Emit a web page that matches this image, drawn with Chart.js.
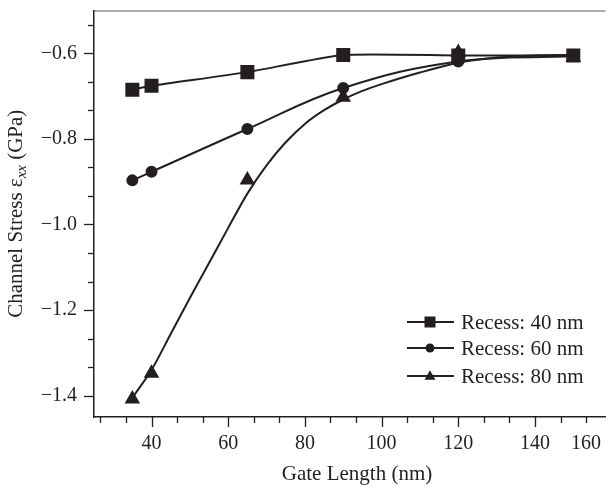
<!DOCTYPE html>
<html>
<head>
<meta charset="utf-8">
<script src="https://cdn.jsdelivr.net/npm/chart.js@4"></script>
<style>
  html, body { margin: 0; padding: 0; background: #fff; }
  #wrap { width: 616px; height: 487px; }
</style>
</head>
<body>
<div id="wrap"><canvas id="stressChart"></canvas></div>
<script>
// gate length (nm) of the measured points
const gateLength = [35, 40, 65, 90, 120, 150];
// channel stress (GPa) per recess depth
const recess40 = [-0.685, -0.676, -0.644, -0.604, -0.605, -0.605];
const recess60 = [-0.897, -0.877, -0.777, -0.681, -0.619, -0.607];
const recess80 = [-1.408, -1.348, -0.896, -0.703, -0.598, -0.610];

// fitted curve for the 80 nm recess (does not go through every point)
const fit80X = [35, 40, 45, 50, 55, 60, 65, 70, 75, 80, 85, 90, 95, 100, 110, 120, 130, 140, 150];
const fit80Y = [-1.405, -1.340, -1.256, -1.172, -1.090, -1.008, -0.928, -0.862, -0.808, -0.765, -0.733, -0.708, -0.688, -0.672, -0.645, -0.622, -0.610, -0.605, -0.604];

// tick labels (the "160" label sits under the last minor tick in the original)
const xTickValues = [40, 60, 80, 100, 120, 140, 153.333];
const xTickLabels = ['40', '60', '80', '100', '120', '140', '160'];
const yTickValues = [-0.6, -0.8, -1.0, -1.2, -1.4];
const yTickLabels = ['\u22120.6', '\u22120.8', '\u22121.0', '\u22121.2', '\u22121.4'];

const ink = '#231f20';
const serif = 'Liberation Serif';

function pairs(xs, ys) {
    return xs.map((x, i) => ({ x: x, y: ys[i] }));
}

function marker(ctx, style, x, y, size) {
    ctx.beginPath();
    if (style === 'rect') {
        ctx.rect(x - size / 2, y - size / 2, size, size);
    } else if (style === 'circle') {
        ctx.arc(x, y, size / 2, 0, Math.PI * 2);
    } else {
        const h = size * 0.87;
        ctx.moveTo(x, y - h * 0.6);
        ctx.lineTo(x + size / 2, y + h * 0.4);
        ctx.lineTo(x - size / 2, y + h * 0.4);
        ctx.closePath();
    }
    ctx.fill();
}

// ticks, top frame line, legend and axis titles
const decorations = {
    id: 'decorations',
    afterDraw(chart) {
        const ctx = chart.ctx;
        const a = chart.chartArea;
        const xs = chart.scales.x;
        const ys = chart.scales.y;
        ctx.save();
        ctx.strokeStyle = ink;
        ctx.fillStyle = ink;

        // top frame line
        ctx.lineWidth = 1.2;
        ctx.globalAlpha = 0.75;
        ctx.beginPath();
        ctx.moveTo(a.left, a.top + 0.5);
        ctx.lineTo(a.right, a.top + 0.5);
        ctx.stroke();
        ctx.globalAlpha = 1;

        // x ticks every 20/3 nm, longer on multiples of 20
        ctx.lineWidth = 1.3;
        for (let k = 4; k <= 23; k++) {
            const v = k * 20 / 3;
            if (v < xs.min || v > xs.max) continue;
            const px = Math.round(xs.getPixelForValue(v)) + 0.5;
            const len = (k % 3 === 0) ? 10 : 6;
            ctx.beginPath();
            ctx.moveTo(px, a.bottom);
            ctx.lineTo(px, a.bottom + len);
            ctx.stroke();
        }
        // y ticks every 0.2/3, longer on the labelled values
        for (let k = 7; k <= 21; k++) {
            const v = -k * 0.2 / 3;
            if (v < ys.min || v > ys.max) continue;
            const py = Math.round(ys.getPixelForValue(v)) + 0.5;
            const len = (k % 3 === 0) ? 10 : 6;
            ctx.beginPath();
            ctx.moveTo(a.left, py);
            ctx.lineTo(a.left - len, py);
            ctx.stroke();
        }

        // legend
        const styles = ['rect', 'circle', 'triangle'];
        const sizes = [11, 9, 11];
        const rows = [322, 348, 376];
        ctx.font = '21px "' + serif + '"';
        ctx.textBaseline = 'middle';
        ctx.textAlign = 'left';
        for (let i = 0; i < 3; i++) {
            const y = rows[i];
            ctx.lineWidth = 2;
            ctx.beginPath();
            ctx.moveTo(407, y);
            ctx.lineTo(454, y);
            ctx.stroke();
            marker(ctx, styles[i], 430, y, sizes[i]);
            ctx.fillText(chart.data.datasets[i].label, 461, y + 1);
        }

        // x title
        ctx.textAlign = 'center';
        ctx.fillText('Gate Length (nm)', 357, 474);

        // y title with italic subscript
        const big = '21px "' + serif + '"';
        const small = 'italic 15px "' + serif + '"';
        const p1 = 'Channel Stress \u03b5';
        const p2 = 'xx';
        const p3 = ' (GPa)';
        ctx.font = big;
        const w1 = ctx.measureText(p1).width;
        const w3 = ctx.measureText(p3).width;
        ctx.font = small;
        const w2 = ctx.measureText(p2).width;
        const total = w1 + w2 + w3;
        ctx.translate(22, (a.top + a.bottom) / 2);
        ctx.rotate(-Math.PI / 2);
        ctx.textAlign = 'left';
        ctx.textBaseline = 'alphabetic';
        let cx = -total / 2;
        ctx.font = big;
        ctx.fillText(p1, cx, 0);
        cx += w1;
        ctx.font = small;
        ctx.fillText(p2, cx, 4);
        cx += w2;
        ctx.font = big;
        ctx.fillText(p3, cx, 0);
        ctx.restore();
    }
};

const lineStyle = {
    borderColor: ink,
    backgroundColor: ink,
    borderWidth: 2,
    tension: 0.4
};

new Chart(document.getElementById('stressChart').getContext('2d'), {
    type: 'line',
    data: {
        datasets: [
            Object.assign({ label: 'Recess: 40 nm', data: pairs(gateLength, recess40), pointStyle: 'rect', pointRadius: 8.5 }, lineStyle, { tension: 0.18 }),
            Object.assign({ label: 'Recess: 60 nm', data: pairs(gateLength, recess60), pointStyle: 'circle', pointRadius: 5 }, lineStyle),
            Object.assign({ label: 'Recess: 80 nm', data: pairs(gateLength, recess80), pointStyle: 'triangle', pointRadius: 7, showLine: false }, lineStyle),
            Object.assign({ label: 'fit 80 nm', data: pairs(fit80X, fit80Y), pointRadius: 0 }, lineStyle, { tension: 0.3 })
        ]
    },
    options: {
        responsive: true,
        maintainAspectRatio: false,
        animation: false,
        layout: { padding: { top: 8, left: 0, right: 0, bottom: 0 } },
        plugins: {
            legend: { display: false },
            tooltip: { enabled: false }
        },
        scales: {
            x: {
                type: 'linear',
                min: 25,
                max: 158.4,
                grid: { display: false, drawTicks: false },
                border: { display: true, color: ink, width: 1.5 },
                afterBuildTicks: scale => { scale.ticks = xTickValues.map(v => ({ value: v })); },
                afterFit: scale => { scale.height = 70; scale.paddingLeft = 0; scale.paddingRight = 0; },
                ticks: {
                    autoSkip: false,
                    maxRotation: 0,
                    padding: 15,
                    color: ink,
                    font: { family: serif, size: 20 },
                    callback: (value, index) => xTickLabels[index]
                }
            },
            y: {
                type: 'linear',
                min: -1.45,
                max: -0.5,
                grid: { display: false, drawTicks: false },
                border: { display: true, color: ink, width: 1.5 },
                afterBuildTicks: scale => { scale.ticks = yTickValues.map(v => ({ value: v })); },
                afterFit: scale => { scale.width = 94; scale.paddingTop = 0; scale.paddingBottom = 0; },
                ticks: {
                    autoSkip: false,
                    padding: 17,
                    color: ink,
                    font: { family: serif, size: 20 },
                    callback: (value, index) => yTickLabels[index]
                }
            }
        }
    },
    plugins: [decorations]
});
</script>
</body>
</html>
